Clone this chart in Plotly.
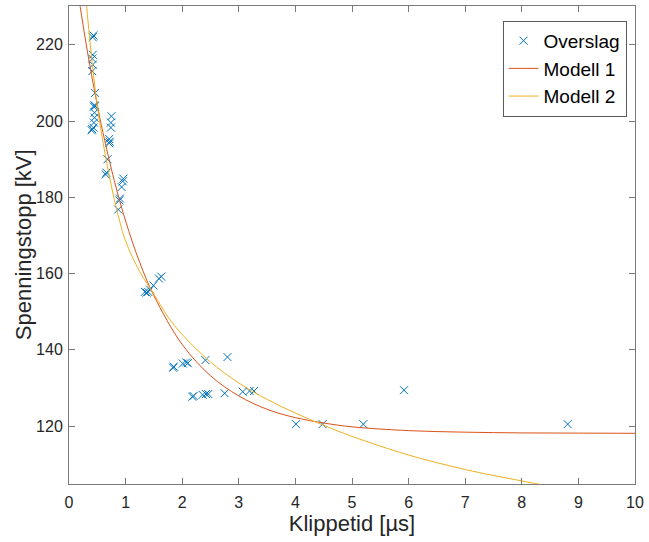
import plotly.graph_objects as go

# Measured flashover points (Overslag)
overslag_x = [0.43, 0.42, 0.42, 0.41, 0.42, 0.41, 0.46, 0.45, 0.44, 0.46, 0.45, 0.45, 0.44, 0.43,
              0.40, 0.41, 0.75, 0.74, 0.74, 0.71, 0.72, 0.71, 0.68, 0.66, 0.65, 0.96, 0.95, 0.93,
              0.90, 0.89, 0.87, 1.34, 1.37, 1.40, 1.43, 1.49, 1.59, 1.63, 1.84, 1.85, 2.01, 2.07,
              2.10, 2.41, 2.80, 2.18, 2.20, 2.36, 2.42, 2.46, 2.75, 3.07, 3.19, 3.27, 4.01, 4.48,
              5.20, 5.92, 8.81]
overslag_y = [222.5, 222.0, 217.4, 216.4, 214.8, 213.1, 207.4, 204.2, 203.8, 203.9, 202.2, 200.9,
              199.6, 198.3, 197.6, 197.9, 201.3, 199.6, 198.3, 195.3, 194.6, 194.2, 190.0, 186.5,
              186.0, 184.9, 184.2, 182.7, 179.7, 179.2, 176.8, 155.2, 155.0, 155.2, 155.8, 156.9,
              158.7, 159.2, 135.3, 135.6, 136.4, 136.7, 136.5, 137.3, 138.1, 127.7, 127.9, 128.2,
              128.4, 128.4, 128.6, 129.0, 129.2, 129.2, 120.5, 120.5, 120.5, 129.4, 120.5]

# Model 1 curve
modell1_x = [0.15, 0.2, 0.3, 0.4, 0.5, 0.6, 0.8, 1.0, 1.25, 1.5, 2.0, 2.5, 3.0, 3.5, 4.0, 4.5,
             5.0, 6.0, 7.0, 8.0, 9.0, 10.0]
modell1_y = [234.8, 229.8, 220.5, 212.0, 204.2, 197.0, 184.4, 173.8, 162.9, 154.2, 141.4, 133.2,
             127.9, 124.4, 122.2, 120.8, 119.8, 118.8, 118.4, 118.2, 118.15, 118.1]

# Model 2 curve
modell2_x = [0.25, 0.3, 0.35, 0.4, 0.45, 0.5, 0.6, 0.7, 0.8, 0.9, 1.0, 1.25, 1.5, 1.75, 2.0, 2.5,
             3.0, 3.5, 4.0, 4.5, 5.0, 6.0, 7.0, 8.0, 8.5]
modell2_y = [241.0, 232.0, 224.0, 216.5, 210.0, 204.0, 194.5, 186.5, 179.5, 173.5, 168.5, 160.5,
             154.6, 148.6, 144.0, 136.8, 131.3, 127.0, 123.4, 120.2, 117.3, 112.4, 108.6, 105.6,
             104.2]

x_ticks = [0, 1, 2, 3, 4, 5, 6, 7, 8, 9, 10]
y_ticks = [120, 140, 160, 180, 200, 220]

FONT = "Liberation Sans, Arial, Helvetica, sans-serif"
TXT = "#262626"
AX = "#7a7a7a"

fig = go.Figure()
fig.add_trace(go.Scatter(
    x=overslag_x, y=overslag_y, mode="markers", name="Overslag",
    marker=dict(symbol="x-thin", size=8, color="#0072BD",
                line=dict(width=1, color="#0072BD")),
))
fig.add_trace(go.Scatter(
    x=modell1_x, y=modell1_y, mode="lines", name="Modell 1",
    line=dict(color="#D95319", width=1, shape="spline"),
))
fig.add_trace(go.Scatter(
    x=modell2_x, y=modell2_y, mode="lines", name="Modell 2",
    line=dict(color="#EDB120", width=1, shape="spline"),
))

axis_common = dict(
    showline=True, linecolor=AX, linewidth=1, mirror="ticks",
    ticks="inside", ticklen=6, tickcolor=AX, tickwidth=1,
    showgrid=False, zeroline=False,
    tickfont=dict(family=FONT, size=16, color=TXT),
)

fig.update_layout(
    width=649, height=542,
    margin=dict(l=69, r=12, t=5, b=58),
    paper_bgcolor="white", plot_bgcolor="white",
    font=dict(family=FONT, color=TXT),
    xaxis=dict(range=[0, 10], tickvals=x_ticks, ticktext=[str(v) for v in x_ticks],
               title=dict(text="Klippetid [µs]", font=dict(family=FONT, size=22, color=TXT),
                          standoff=4),
               ticklabelstandoff=4, **axis_common),
    yaxis=dict(range=[104.8, 230.2], tickvals=y_ticks, ticktext=[str(v) for v in y_ticks],
               ticklabelstandoff=2, **axis_common),
    legend=dict(x=0.985, y=0.969, xanchor="right", yanchor="top",
                bgcolor="white", bordercolor="#5a5a5a", borderwidth=1,
                font=dict(family=FONT, size=19, color="black"),
                tracegroupgap=0, itemwidth=30),
    showlegend=True,
    annotations=[dict(
        text="Spenningstopp [kV]", textangle=-90,
        xref="paper", yref="paper", x=-0.081, y=0.5,
        xanchor="center", yanchor="middle", showarrow=False,
        font=dict(family=FONT, size=22, color=TXT),
    )],
)

fig.write_html("out.html", config={"displayModeBar": False},
               post_script="document.body.style.margin='0';document.body.style.padding='0';")
